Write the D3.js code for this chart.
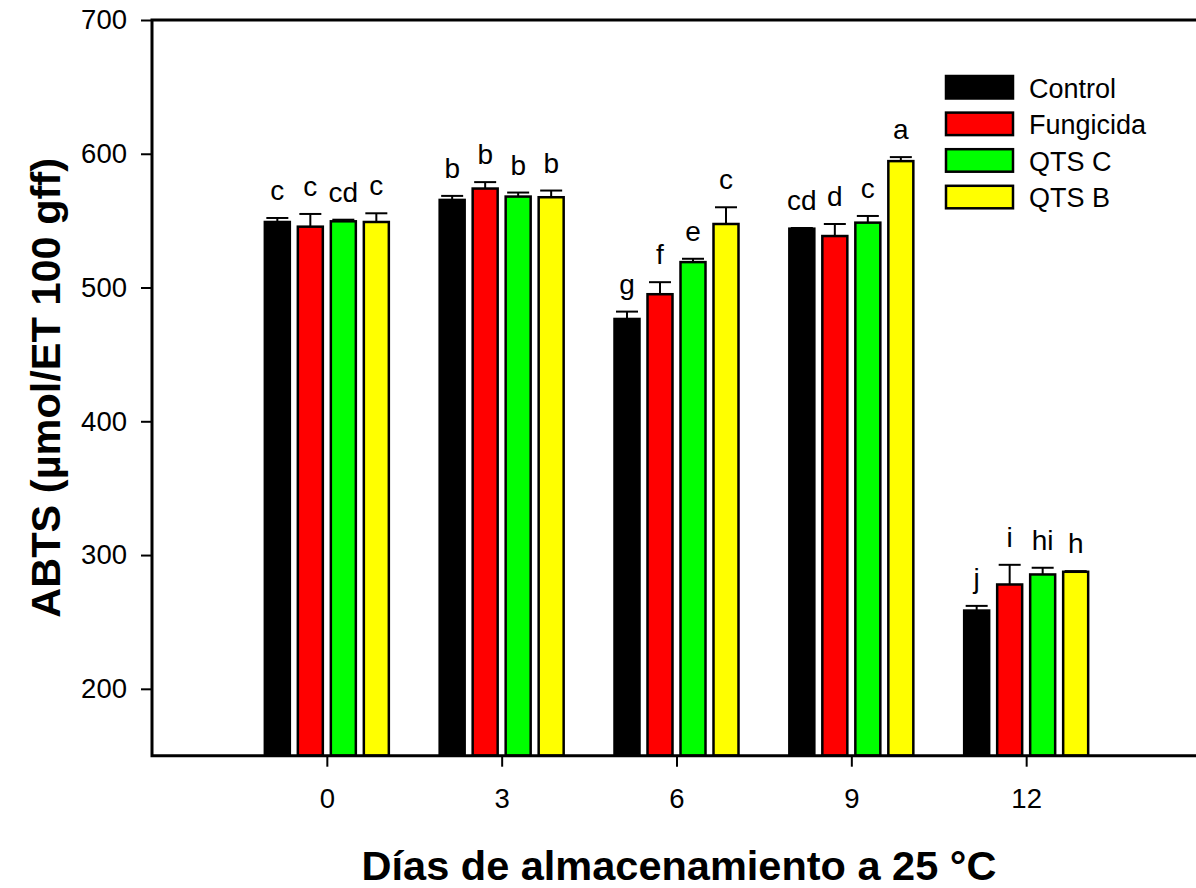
<!DOCTYPE html>
<html>
<head>
<meta charset="utf-8">
<script src="https://cdn.jsdelivr.net/npm/d3@7"></script>
<style>
  body { margin: 0; background: #fff; }
  svg { display: block; font-family: 'Liberation Sans', Arial, sans-serif; }
</style>
</head>
<body>
<svg id="chart" width="1196" height="888"></svg>
<script>
// storage days on the x axis
var days = [0, 3, 6, 9, 12];

// treatments
var series = ['Control', 'Fungicida', 'QTS C', 'QTS B'];
var colors = ['#000000', '#ff0000', '#00ff00', '#ffff00'];

// means per treatment (one value per day)
var control   = [549, 565.5, 476.5, 544, 258.5];
var fungicida = [545.5, 574, 495, 538.5, 278];
var qtsC      = [549.5, 568, 519, 548.5, 285.5];
var qtsB      = [549, 567.5, 547.5, 594.5, 287.5];

// standard errors
var controlErr   = [3, 3, 5.5, 0.5, 3.5];
var fungicidaErr = [9.5, 4.8, 9, 9, 14.7];
var qtsCErr      = [1.2, 3, 2.5, 5, 5];
var qtsBErr      = [6.5, 5, 12.5, 3, 0.5];

// significance letters
var controlLbl   = ['c', 'b', 'g', 'cd', 'j'];
var fungicidaLbl = ['c', 'b', 'f', 'd', 'i'];
var qtsCLbl      = ['cd', 'b', 'e', 'c', 'hi'];
var qtsBLbl      = ['c', 'b', 'c', 'a', 'h'];

var yTicks = [200, 300, 400, 500, 600, 700];

var values = [control, fungicida, qtsC, qtsB];
var errors = [controlErr, fungicidaErr, qtsCErr, qtsBErr];
var labels = [controlLbl, fungicidaLbl, qtsCLbl, qtsBLbl];

var svg = d3.select('#chart');

// plot frame (window.top is reserved, hence the names)
var plotL = 152, plotR = 1201, plotT = 20, plotB = 755.7;

var x = d3.scaleLinear().domain([-3, 15]).range([plotL, plotR]);
var y = d3.scaleLinear().domain([150, 700]).range([plotB, plotT]);

var barW = 25, barStep = 33;

// flatten to one record per bar
var bars = [];
series.forEach(function(s, si) {
  days.forEach(function(d, di) {
    bars.push({
      si: si,
      day: d,
      value: values[si][di],
      err: errors[si][di],
      label: labels[si][di]
    });
  });
});

function barX(b) {
  return x(b.day) + (b.si - 1.5) * barStep - barW / 2;
}

// bars
svg.append('g').selectAll('rect')
  .data(bars)
  .enter().append('rect')
  .attr('x', barX)
  .attr('y', function(b) { return y(b.value); })
  .attr('width', barW)
  .attr('height', function(b) { return plotB - y(b.value); })
  .attr('fill', function(b) { return colors[b.si]; })
  .attr('stroke', '#000')
  .attr('stroke-width', 2.5);

// error bars (upper only)
var eb = svg.append('g').attr('stroke', '#000').attr('stroke-width', 2);
bars.forEach(function(b) {
  var cx = barX(b) + barW / 2;
  eb.append('line')
    .attr('x1', cx).attr('x2', cx)
    .attr('y1', y(b.value)).attr('y2', y(b.value + b.err));
  eb.append('line')
    .attr('x1', cx - 11).attr('x2', cx + 11)
    .attr('y1', y(b.value + b.err)).attr('y2', y(b.value + b.err));
});

// letters
svg.append('g').selectAll('text')
  .data(bars)
  .enter().append('text')
  .attr('x', function(b) { return barX(b) + barW / 2; })
  .attr('y', function(b) { return y(b.value + b.err) - 18; })
  .attr('text-anchor', 'middle')
  .attr('font-size', 28)
  .text(function(b) { return b.label; });

// axes
var yAxis = svg.append('g')
  .attr('transform', 'translate(' + plotL + ',0)')
  .call(d3.axisLeft(y).tickValues(yTicks).tickSize(11).tickPadding(14));
var xAxis = svg.append('g')
  .attr('transform', 'translate(0,' + plotB + ')')
  .call(d3.axisBottom(x).tickValues(days).tickSize(11).tickPadding(22));

[yAxis, xAxis].forEach(function(ax) {
  ax.attr('font-size', 27.5).attr('font-family', "'Liberation Sans', Arial, sans-serif");
  ax.select('.domain').remove();
  ax.selectAll('.tick line').attr('stroke', '#000').attr('stroke-width', 2);
  ax.selectAll('.tick text').attr('fill', '#000');
});

// frame: left, top, bottom
svg.append('path')
  .attr('d', 'M' + plotR + ',' + plotT + 'H' + plotL + 'V' + plotB + 'H' + plotR)
  .attr('fill', 'none')
  .attr('stroke', '#000')
  .attr('stroke-width', 3);

// axis titles
svg.append('text')
  .attr('transform', 'translate(60,' + ((plotT + plotB) / 2) + ') rotate(-90)')
  .attr('text-anchor', 'middle')
  .attr('font-size', 41.5)
  .attr('font-weight', 'bold')
  .text('ABTS (µmol/ET 100 gff)');

svg.append('text')
  .attr('x', 679)
  .attr('y', 880)
  .attr('text-anchor', 'middle')
  .attr('font-size', 41.5)
  .attr('font-weight', 'bold')
  .text('Días de almacenamiento a 25 °C');

// legend
var legend = svg.append('g').attr('transform', 'translate(946,76)');
series.forEach(function(s, i) {
  var row = legend.append('g').attr('transform', 'translate(0,' + (i * 36.6) + ')');
  row.append('rect')
    .attr('width', 67).attr('height', 22.5)
    .attr('fill', colors[i])
    .attr('stroke', '#000')
    .attr('stroke-width', 2.5);
  row.append('text')
    .attr('x', 83).attr('y', 21.5)
    .attr('font-size', 27)
    .text(s);
});
</script>
</body>
</html>
